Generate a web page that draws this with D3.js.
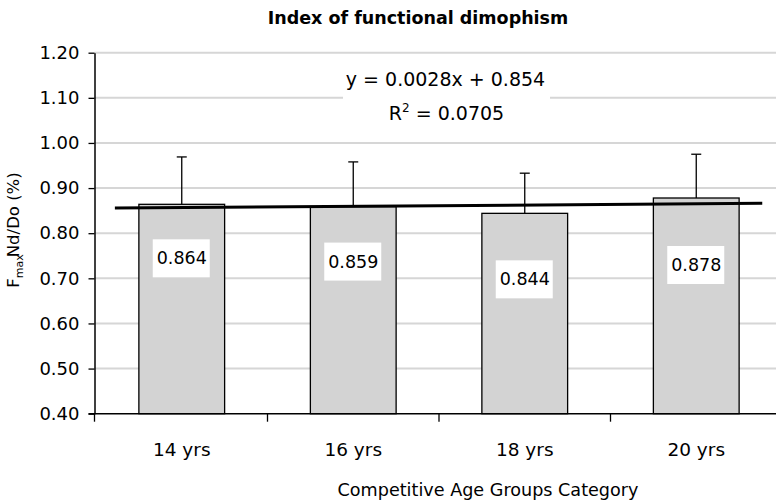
<!DOCTYPE html>
<html>
<head>
<meta charset="utf-8">
<script src="https://cdn.jsdelivr.net/npm/d3@7"></script>
<style>
  body { margin: 0; background: #fff; }
  text { font-family: "DejaVu Sans", sans-serif; fill: #000; }
</style>
</head>
<body>
<div id="chart"></div>
<script>
// chart values
const categories = ["14 yrs", "16 yrs", "18 yrs", "20 yrs"];
const means = [0.864, 0.859, 0.844, 0.878];
const sds = [0.105, 0.099, 0.089, 0.097];
const yTicks = [0.40, 0.50, 0.60, 0.70, 0.80, 0.90, 1.00, 1.10, 1.20];
const trend = { slope: 0.0028, intercept: 0.854, r2: 0.0705 };

// value labels were dragged by hand in the original: px below bar top
const labelDrop = [54, 55, 66, 67];

const W = 776, H = 502;
const axisX = 94.5;
const font = "DejaVu Sans, sans-serif";

const svg = d3.select("#chart")
    .append("svg")
    .attr("width", W)
    .attr("height", H);

const x = d3.scaleBand()
    .domain(categories)
    .range([96, 782])
    .paddingInner(0.5)
    .paddingOuter(0.25);

const y = d3.scaleLinear()
    .domain([0.4, 1.2])
    .range([413.7, 52.7]);

const cx = i => x(categories[i]) + x.bandwidth() / 2;

// gridlines
svg.append("g")
    .selectAll("line")
    .data(yTicks.slice(1))
    .join("line")
    .attr("x1", axisX)
    .attr("x2", W)
    .attr("y1", d => y(d))
    .attr("y2", d => y(d))
    .attr("stroke", "#d6d6d6")
    .attr("stroke-width", 2);

// white box behind the trendline equation
svg.append("rect")
    .attr("x", 343).attr("y", 62)
    .attr("width", 207).attr("height", 68)
    .attr("fill", "#fff");

// error bars (upper only)
const eb = svg.append("g").attr("stroke", "#000").attr("stroke-width", 1.3);
means.forEach((m, i) => {
    eb.append("line")
        .attr("x1", cx(i)).attr("x2", cx(i))
        .attr("y1", y(m)).attr("y2", y(m + sds[i]));
    eb.append("line")
        .attr("x1", cx(i) - 5).attr("x2", cx(i) + 5)
        .attr("y1", y(m + sds[i])).attr("y2", y(m + sds[i]));
});

// bars
svg.append("g")
    .selectAll("rect")
    .data(means)
    .join("rect")
    .attr("x", (d, i) => x(categories[i]))
    .attr("y", d => y(d))
    .attr("width", x.bandwidth())
    .attr("height", d => y(0.4) - y(d))
    .attr("fill", "#d3d3d3")
    .attr("stroke", "#000")
    .attr("stroke-width", 1.3);

// value labels in white boxes
means.forEach((m, i) => {
    const cy = y(m) + labelDrop[i];
    svg.append("rect")
        .attr("x", cx(i) - 29).attr("y", cy - 19)
        .attr("width", 57).attr("height", 38)
        .attr("fill", "#fff");
    svg.append("text")
        .attr("x", cx(i)).attr("y", cy)
        .attr("text-anchor", "middle")
        .attr("dominant-baseline", "central")
        .attr("font-size", 17.5)
        .text(d3.format(".3f")(m));
});

// linear trendline over the category index (1..4)
const xi = d3.scaleLinear()
    .domain([1, categories.length])
    .range([cx(0), cx(categories.length - 1)]);
const trendSpan = [0.61, 4.385];
svg.append("path")
    .datum(trendSpan)
    .attr("fill", "none")
    .attr("stroke", "#000")
    .attr("stroke-width", 3)
    .attr("d", d3.line()
        .x(d => xi(d))
        .y(d => y(trend.slope * d + trend.intercept)));

// y axis
const yAxis = svg.append("g")
    .attr("transform", `translate(${axisX},0)`)
    .call(d3.axisLeft(y).tickValues(yTicks).tickFormat(d3.format(".2f"))
        .tickSize(6).tickSizeOuter(0).tickPadding(9));
yAxis.select(".domain").attr("stroke-width", 1.5);
yAxis.selectAll(".tick line").attr("stroke-width", 1.3);
yAxis.selectAll("text")
    .attr("font-size", 18)
    .attr("font-family", font)
    .attr("fill", "#000");

// x axis (ticks between categories)
const xAxis = svg.append("g")
    .attr("transform", `translate(0,${y(0.4)})`);
xAxis.append("line")
    .attr("x1", axisX - 6).attr("x2", W)
    .attr("stroke", "#000").attr("stroke-width", 1.5);
const bounds = categories.map((c, i) => i === 0 ? axisX : x(c) - x.bandwidth() / 2);
xAxis.selectAll(".tk")
    .data(bounds)
    .join("line")
    .attr("x1", d => d).attr("x2", d => d)
    .attr("y1", 0).attr("y2", 8)
    .attr("stroke", "#000").attr("stroke-width", 1.3);
xAxis.selectAll(".lb")
    .data(categories)
    .join("text")
    .attr("x", (d, i) => cx(i))
    .attr("y", 42.5)
    .attr("text-anchor", "middle")
    .attr("font-size", 18.5)
    .text(d => d);

// titles
svg.append("text")
    .attr("x", 418).attr("y", 24)
    .attr("text-anchor", "middle")
    .attr("font-size", 17.5).attr("font-weight", "bold")
    .text("Index of functional dimophism");

svg.append("text")
    .attr("x", 488).attr("y", 496)
    .attr("text-anchor", "middle")
    .attr("font-size", 17.6)
    .text("Competitive Age Groups Category");

const yl = svg.append("text")
    .attr("transform", "translate(19,230) rotate(-90)")
    .attr("text-anchor", "middle")
    .attr("font-size", 16.5);
yl.append("tspan").text("F");
yl.append("tspan").attr("font-size", 11).attr("dy", 4).text("max");
yl.append("tspan").attr("dy", -4).attr("dx", -3).text("Nd/Do (%)");

// trendline equation
svg.append("text")
    .attr("x", 445.5).attr("y", 86)
    .attr("text-anchor", "middle")
    .attr("font-size", 19)
    .text(`y = ${trend.slope}x + ${trend.intercept}`);
const r2 = svg.append("text")
    .attr("x", 446.5).attr("y", 120)
    .attr("text-anchor", "middle")
    .attr("font-size", 19);
r2.append("tspan").text("R");
r2.append("tspan").attr("font-size", 12).attr("dy", -8).text("2");
r2.append("tspan").attr("dy", 8).text(` = ${trend.r2}`);
</script>
</body>
</html>
